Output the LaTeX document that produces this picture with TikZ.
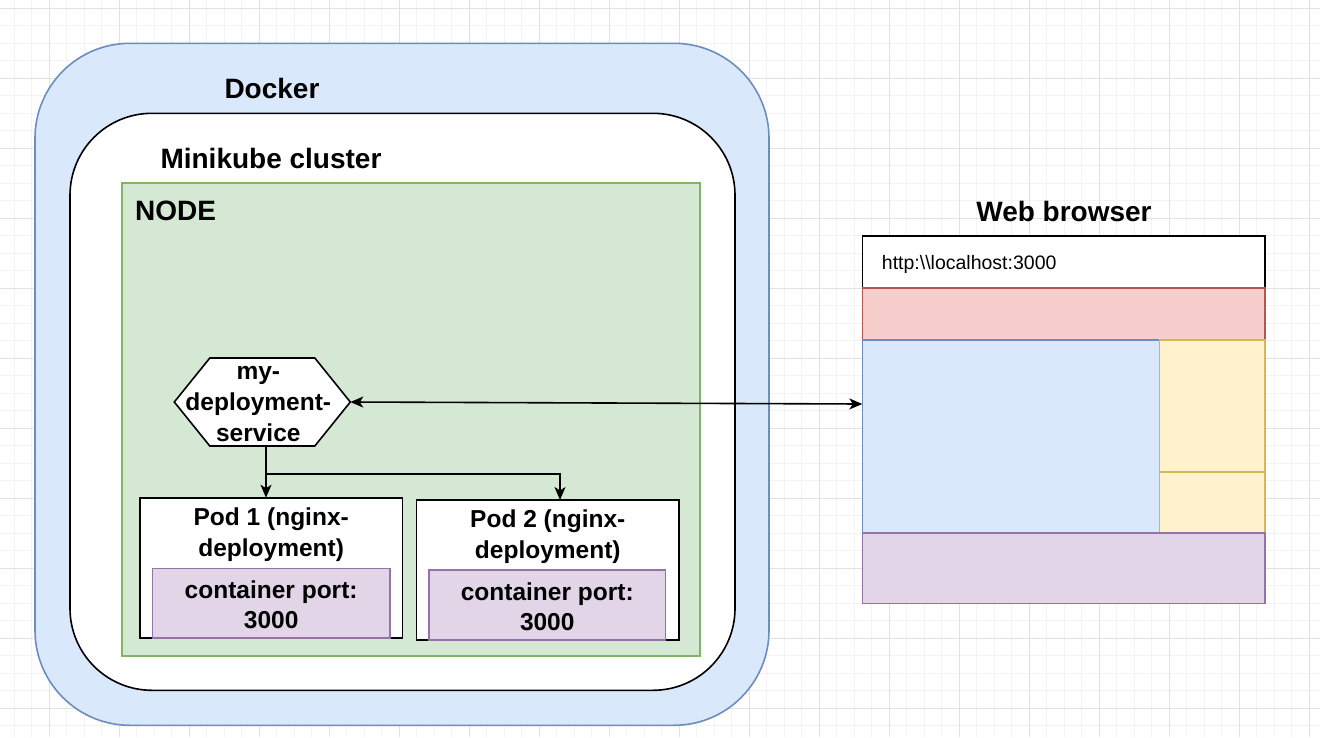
\documentclass[tikz,border=0pt]{standalone}
\usepackage{fontspec}
\setmainfont{Liberation Sans}
\usetikzlibrary{arrows.meta,calc}
\definecolor{blueF}{HTML}{DAE8FC}
\definecolor{blueS}{HTML}{6C8EBF}
\definecolor{greenF}{HTML}{D5E8D4}
\definecolor{greenS}{HTML}{82B366}
\definecolor{redF}{HTML}{F8CECC}
\definecolor{redS}{HTML}{B85450}
\definecolor{yelF}{HTML}{FFF2CC}
\definecolor{yelS}{HTML}{D6B656}
\definecolor{purF}{HTML}{E1D5E7}
\definecolor{purS}{HTML}{9673A6}
\definecolor{gridMin}{HTML}{F3F3F3}
\definecolor{gridMaj}{HTML}{E2E2E2}
\newcommand\myBig{\fontsize{28}{34}\selectfont\bfseries}
\newcommand\myMed{\fontsize{24.5}{30.8}\selectfont\bfseries}
\newcommand\mySmall{\fontsize{19.5}{24}\selectfont}
\begin{document}
\begin{tikzpicture}[x=1pt,y=-1pt,
  box/.style={rectangle, inner sep=0pt, outer sep=0pt, line width=1.6pt, anchor=north west},
  title/.style={inner sep=0pt, font=\myBig},
  podtext/.style={inner sep=0pt, font=\myMed, align=center},
  conn/.style={line width=1.6pt, -{Stealth[length=13pt,width=11pt,inset=3.5pt]}},
  conn2/.style={line width=1.6pt, {Stealth[length=13pt,width=11pt,inset=3.5pt]}-{Stealth[length=13pt,width=11pt,inset=3.5pt]}}
]
\useasboundingbox (0,0) rectangle (1320,737);
\fill[white] (0,0) rectangle (1320,737);
% grid
\foreach \i in {0,...,76} { \draw[gridMin, line width=1pt] ({-3.2+17.5*\i},0) -- ({-3.2+17.5*\i},737); }
\foreach \j in {0,...,43} { \draw[gridMin, line width=1pt] (0,{-9.2+17.5*\j}) -- (1320,{-9.2+17.5*\j}); }
\foreach \i in {0,...,18} { \draw[gridMaj, line width=1pt] ({49.3+70*\i},0) -- ({49.3+70*\i},737); }
\foreach \j in {0,...,10} { \draw[gridMaj, line width=1pt] (0,{8.3+70*\j}) -- (1320,{8.3+70*\j}); }

% Docker
\node[box, fill=blueF, draw=blueS, rounded corners=95pt, minimum width=734pt, minimum height=682pt] (docker) at (35,43.3) {};
\node[title] (dockerT) at (272,88) {Docker};
% Minikube
\node[box, fill=white, draw=black, rounded corners=82pt, minimum width=665pt, minimum height=577pt] (mini) at (70,113.3) {};
\node[title] (miniT) at (271,158) {Minikube cluster};
% NODE
\node[box, fill=greenF, draw=greenS, minimum width=577.7pt, minimum height=472.7pt] (knode) at (122,183) {};
\node[title, anchor=west] (knodeT) at (135,211) {NODE};

% Pods
\node[box, fill=white, draw=black, minimum width=262.4pt, minimum height=140pt] (pod1) at (140,497.7) {};
\node[podtext] (pod1T) at (271.2,535) {Pod 1 (nginx-\\deployment)};
\node[box, fill=purF, draw=purS, minimum width=237.3pt, minimum height=69.4pt] (c1) at (152.5,568.3) {};
\node[podtext] (c1T) at ($(c1.center)+(0,1.8)$) {container port:\\3000};

\node[box, fill=white, draw=black, minimum width=262.1pt, minimum height=140pt] (pod2) at (416.6,500) {};
\node[podtext] (pod2T) at (547.8,537) {Pod 2 (nginx-\\deployment)};
\node[box, fill=purF, draw=purS, minimum width=236.1pt, minimum height=70pt] (c2) at (429.2,570) {};
\node[podtext] (c2T) at ($(c2.center)+(0,1.8)$) {container port:\\3000};

% Service hexagon
\coordinate (svcC) at (262.3,402);
\draw[fill=white, draw=black, line width=1.6pt]
  ($(svcC)+(-52.5,-44)$) -- ($(svcC)+(52.5,-44)$) -- ($(svcC)+(88,0)$)
  -- ($(svcC)+(52.5,44)$) -- ($(svcC)+(-52.5,44)$) -- ($(svcC)+(-88,0)$) -- cycle;
\node[podtext] (svc) at ($(svcC)+(-4,2)$) {my-\\deployment-\\service};
\coordinate (svcE) at ($(svcC)+(88,0)$);
\coordinate (svcS) at (266,446);
\coordinate (split) at (266,474);
\coordinate (p2in) at (560,500);

% Connectors to pods
\draw[conn] (svcS) -- (svcS |- pod1.north);
\draw[line width=1.6pt] (svcS) -- (split);
\draw[conn] (split) -| (p2in);

% Web browser
\node[title] (webT) at (1064,211) {Web browser};
\node[box, fill=white, draw=black, minimum width=402.7pt, minimum height=52pt] (addr) at (862.3,235.7) {};
\node[inner sep=0pt, anchor=west, font=\mySmall] (addrT) at (881.7,264) {http:\textbackslash\textbackslash localhost:3000};
\node[box, fill=redF, draw=redS, minimum width=402.7pt, minimum height=52.3pt] (hdr) at (862.3,287.7) {};
\node[box, fill=blueF, draw=blueS, minimum width=297pt, minimum height=192.7pt] (main) at (862.3,340) {};
\node[box, fill=yelF, draw=yelS, minimum width=105.7pt, minimum height=132pt] (side1) at (1159.3,340) {};
\node[box, fill=yelF, draw=yelS, minimum width=105.7pt, minimum height=60.7pt] (side2) at (1159.3,472) {};
\node[box, fill=purF, draw=purS, minimum width=402.7pt, minimum height=70.6pt] (foot) at (862.3,532.7) {};
\coordinate (brIn) at (862.3,404);

% Service <-> browser
\draw[conn2] (svcE) -- (brIn);
\end{tikzpicture}
\end{document}
